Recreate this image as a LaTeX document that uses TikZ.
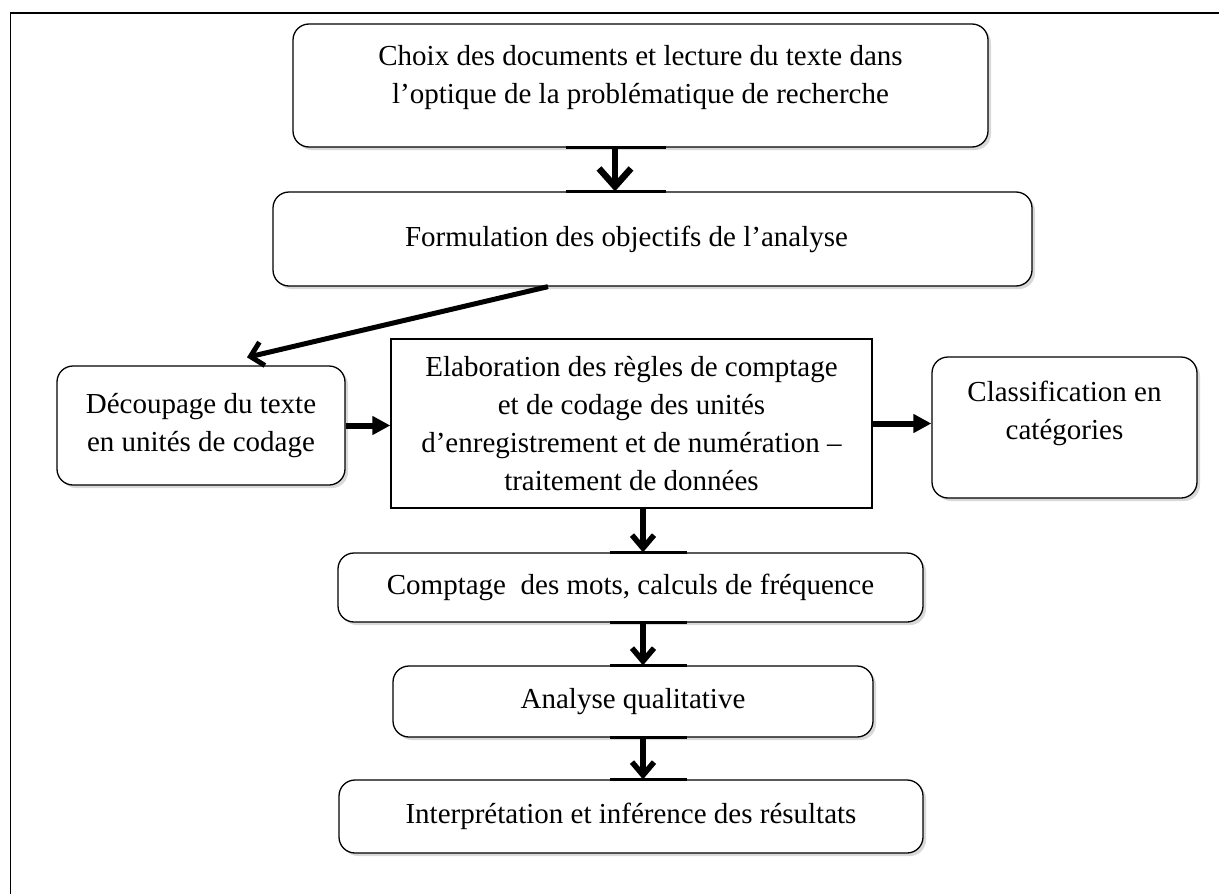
\documentclass[tikz,border=0pt]{standalone}
\usepackage{fontspec}
\setmainfont{Liberation Serif}
\usetikzlibrary{arrows.meta,shadows}

\tikzset{
    etape/.style={draw, line width=1.3pt, rounded corners=16pt, fill=white,
        drop shadow={shadow xshift=3pt, shadow yshift=-3pt, opacity=0.3},
        align=center, inner sep=0pt, font=\fontsize{29}{38}\selectfont},
    etapecarre/.style={draw, line width=1.3pt, fill=white,
        align=center, inner sep=0pt, font=\fontsize{29}{38}\selectfont},
    fleche/.style={line width=5.5pt, -{Straight Barb[length=13pt,width=22pt]}},
    flechepleine/.style={line width=6pt, -{Triangle[length=18pt,width=18pt]}},
    renfort/.style={line width=3pt},
}

\begin{document}
\begin{tikzpicture}[x=1pt, y=-1pt]
    \useasboundingbox (0,0) rectangle (1219,894);
    % cadre
    \draw[line width=1.6pt] (10.5,894) -- (10.5,13) -- (1219,13);

    % etapes
    \node[etape, minimum width=695pt, minimum height=123pt] (choix) at (640.5,85.5)
        {Choix des documents et lecture du texte dans\\l’optique de la problématique de recherche\\[-28pt]\strut};
    \node[etape, minimum width=759pt, minimum height=94pt] (formul) at (652.5,239)
        {Formulation des objectifs de l’analyse\hspace*{52pt}};
    \node[etape, minimum width=288pt, minimum height=119pt] (decoup) at (201,425.5)
        {Découpage du texte\\en unités de codage};
    \node[etapecarre, minimum width=481pt, minimum height=169pt] (elab) at (631.5,423.5)
        {Elaboration des règles de comptage\\et de codage des unités\\d’enregistrement et de numération –\\traitement de données};
    \node[etape, minimum width=265pt, minimum height=141pt] (classif) at (1064.5,427.5)
        {Classification en\\catégories\\[-14pt]\strut};
    \node[etape, minimum width=585pt, minimum height=69pt] (compt) at (630.5,587.5)
        {Comptage\ \ des mots, calculs de fréquence};
    \node[etape, minimum width=480pt, minimum height=71pt] (analyse) at (633,701.5)
        {Analyse qualitative};
    \node[etape, minimum width=584pt, minimum height=73pt] (interp) at (631,816.5)
        {Interprétation et inférence des résultats};

    % bords renforces aux fleches
    \draw[renfort] ([xshift=-75pt]choix.south) -- ([xshift=25pt]choix.south);
    \draw[renfort] ([xshift=-87pt]formul.north) -- ([xshift=13pt]formul.north);
    \draw[renfort] ([xshift=-21pt]compt.north) -- ([xshift=56pt]compt.north);
    \draw[renfort] ([xshift=-21pt]compt.south) -- ([xshift=56pt]compt.south);
    \draw[renfort] ([xshift=-23pt]analyse.north) -- ([xshift=54pt]analyse.north);
    \draw[renfort] ([xshift=-23pt]analyse.south) -- ([xshift=54pt]analyse.south);
    \draw[renfort] ([xshift=-21pt]interp.north) -- ([xshift=56pt]interp.north);

    % fleches
    \draw[line width=6.5pt, -{Straight Barb[length=18pt,width=32pt]}]
        ([xshift=-25.5pt]choix.south) -- ([xshift=-25.5pt]choix.south |- formul.north);
    \draw[line width=5pt, -{Straight Barb[length=12pt,width=24pt]}]
        ([xshift=-104.5pt]formul.south) -- ([xshift=46pt,yshift=8pt]decoup.north);
    \draw[flechepleine] (decoup.east) -- (decoup.east -| elab.west);
    \draw[flechepleine] (elab.east) -- (elab.east -| classif.west);
    \draw[fleche] ([xshift=11.5pt]elab.south) -- ([xshift=11.5pt]elab.south |- compt.north);
    \draw[fleche] ([xshift=12.5pt]compt.south) -- ([xshift=12.5pt]compt.south |- analyse.north);
    \draw[fleche] ([xshift=10pt]analyse.south) -- ([xshift=10pt]analyse.south |- interp.north);
\end{tikzpicture}
\end{document}
